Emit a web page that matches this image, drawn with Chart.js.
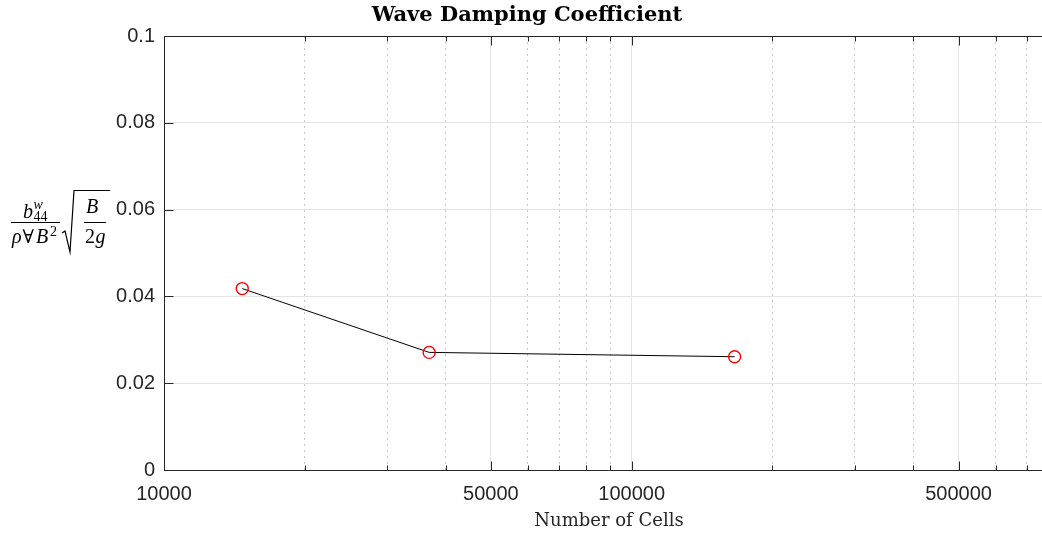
<!DOCTYPE html>
<html>
<head>
<meta charset="utf-8">
<script src="https://cdn.jsdelivr.net/npm/chart.js@4.4.1/dist/chart.umd.min.js"></script>
<style>
  html, body { margin: 0; padding: 0; overflow: hidden; background: #fff; }
  #wrap { width: 1218px; height: 533px; }
</style>
</head>
<body>
<div id="wrap"><canvas id="c" width="1218" height="533"></canvas></div>
<script>
// Mesh refinement study: damping coefficient vs. number of cells
const cells   = [14700, 36900, 166000];
const damping = [0.0418, 0.0271, 0.0261];

// Log-axis ticks: every integer multiple within each decade
const xTicks = [10000, 20000, 30000, 40000, 50000, 60000, 70000, 80000, 90000,
                100000, 200000, 300000, 400000, 500000, 600000, 700000, 800000];
const xLabelled = [10000, 50000, 100000, 500000];
const yTicks = [0, 0.02, 0.04, 0.06, 0.08, 0.1];

const titleText = 'Wave Damping Coefficient';
const xTitleText = 'Number of Cells';

const AXIS = '#262626';
const GRID_MAJOR = '#e4e4e4';
const GRID_MINOR = '#c8c8c8';

// Axes box with inward tick marks (bottom, top, left)
const frame = {
  id: 'frame',
  afterDraw(chart) {
    const {ctx, chartArea: a, scales: {x, y}} = chart;
    const L = a.left + 0.5, R = a.right + 0.5, T = a.top + 0.5, B = a.bottom + 0.5;
    ctx.save();
    ctx.strokeStyle = AXIS;
    ctx.lineWidth = 1;
    ctx.beginPath();
    ctx.moveTo(R, T); ctx.lineTo(L, T); ctx.lineTo(L, B); ctx.lineTo(R, B);
    ctx.stroke();
    ctx.beginPath();
    xTicks.forEach(v => {
      const px = Math.round(x.getPixelForValue(v)) + 0.5;
      const len = xLabelled.includes(v) ? 9 : 5;
      ctx.moveTo(px, B); ctx.lineTo(px, B - len);
      ctx.moveTo(px, T); ctx.lineTo(px, T + len);
    });
    yTicks.forEach(v => {
      const py = Math.round(y.getPixelForValue(v)) + 0.5;
      ctx.moveTo(L, py); ctx.lineTo(L + 9, py);
    });
    ctx.stroke();
    ctx.restore();
  }
};

// Vertical y-axis label: b^w_44 / (rho ∀ B^2) * sqrt(B / 2g)
const yLabel = {
  id: 'yLabel',
  afterDraw(chart) {
    const ctx = chart.ctx;
    const it = s => `italic ${s}px "Liberation Serif"`;
    const rm = s => `${s}px "Liberation Serif", "DejaVu Serif"`;
    const axisY = 222.5;
    ctx.save();
    ctx.fillStyle = '#000';
    ctx.strokeStyle = '#000';
    ctx.textAlign = 'left';
    ctx.textBaseline = 'alphabetic';
    // numerator of first fraction
    ctx.font = it(20); ctx.fillText('b', 23, 218);
    ctx.font = it(14); ctx.fillText('w', 33.5, 208.5);
    ctx.font = rm(14); ctx.fillText('44', 33.5, 220.5);
    // denominator of first fraction
    ctx.font = it(20); ctx.fillText('ρ', 12, 243);
    ctx.font = rm(19); ctx.fillText('∀', 22.5, 243);
    ctx.font = it(20); ctx.fillText('B', 36, 243);
    ctx.font = rm(14); ctx.fillText('2', 50, 236);
    // fraction bars
    ctx.lineWidth = 1;
    ctx.beginPath();
    ctx.moveTo(11, axisY); ctx.lineTo(60, axisY);
    ctx.moveTo(84, axisY); ctx.lineTo(106, axisY);
    ctx.stroke();
    // radical sign
    ctx.lineWidth = 1.2;
    ctx.beginPath();
    ctx.moveTo(62, 233); ctx.lineTo(65, 231);
    ctx.lineTo(70, 252); ctx.lineTo(74, 190.5); ctx.lineTo(110, 190.5);
    ctx.stroke();
    // second fraction
    ctx.font = it(20); ctx.fillText('B', 86, 213);
    ctx.font = rm(20); ctx.fillText('2', 85, 243);
    ctx.font = it(20); ctx.fillText('g', 95.5, 243);
    ctx.restore();
  }
};

new Chart(document.getElementById('c'), {
  type: 'line',
  data: {
    datasets: [{
      data: cells.map((c, i) => ({x: c, y: damping[i]})),
      borderColor: '#000',
      borderWidth: 1,
      tension: 0,
      fill: false,
      pointStyle: 'circle',
      pointRadius: 6,
      pointBorderWidth: 1.4,
      pointBorderColor: '#ff0000',
      pointBackgroundColor: 'rgba(0,0,0,0)'
    }]
  },
  plugins: [frame, yLabel],
  options: {
    responsive: false,
    animation: false,
    events: [],
    layout: { padding: { left: 0, right: 164, top: 0, bottom: 0 } },
    plugins: {
      legend: { display: false },
      tooltip: { enabled: false },
      title: {
        display: true,
        text: titleText,
        color: '#000',
        font: { family: '"DejaVu Serif"', weight: 'bold', size: 21, lineHeight: 1.2 },
        padding: { top: 3, bottom: 7.8 }
      }
    },
    scales: {
      x: {
        type: 'logarithmic',
        min: 10000,
        max: 800000,
        afterBuildTicks: s => { s.ticks = xTicks.map(v => ({value: v, major: xLabelled.includes(v)})); },
        afterFit: s => { s.height = 63; },
        ticks: {
          autoSkip: false,
          maxRotation: 0,
          padding: 12,
          color: AXIS,
          font: { family: '"Liberation Sans"', size: 20 },
          callback: v => xLabelled.includes(v) ? String(v) : ''
        },
        grid: {
          drawTicks: false,
          color: c => xLabelled.includes(c.tick && c.tick.value) ? GRID_MAJOR : GRID_MINOR,
          lineWidth: 1
        },
        border: {
          display: false,
          dash: c => xLabelled.includes(c.tick && c.tick.value) ? [] : [2, 4]
        },
        title: {
          display: true,
          text: xTitleText,
          color: AXIS,
          font: { family: '"DejaVu Serif"', size: 18 },
          padding: { top: 0, bottom: 1 }
        }
      },
      y: {
        type: 'linear',
        min: 0,
        max: 0.1,
        afterBuildTicks: s => { s.ticks = yTicks.map(v => ({value: v})); },
        afterFit: s => { s.width = 164; },
        ticks: {
          padding: 9,
          color: AXIS,
          font: { family: '"Liberation Sans"', size: 20 },
          callback: v => String(+v.toFixed(2))
        },
        grid: { drawTicks: false, color: GRID_MAJOR, lineWidth: 1 },
        border: { display: false }
      }
    }
  }
});
</script>
</body>
</html>
